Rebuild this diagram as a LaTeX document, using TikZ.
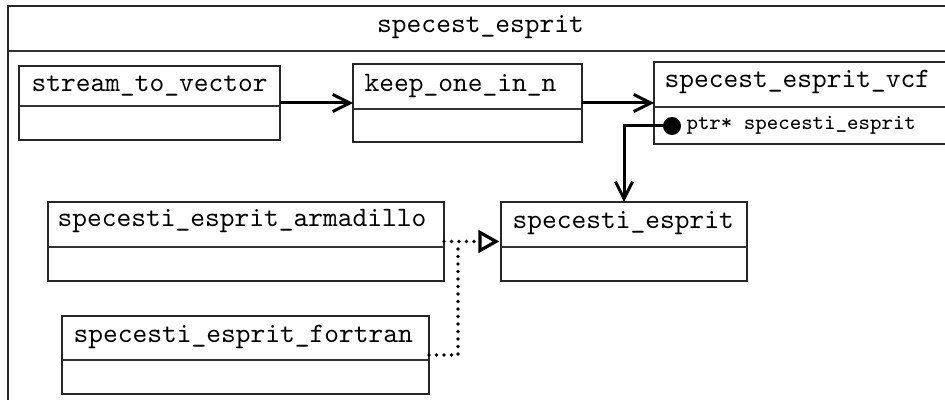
\documentclass[tikz,border=0pt]{standalone}
\usetikzlibrary{arrows.meta,calc}
\newcommand\umlbox[5]{%
  \node[umlframe, minimum width={(#4-#2)*0.5pt}, minimum height={(#5-#3)*0.5pt}] (#1) at (#2,#3) {};}
\begin{document}
\begin{tikzpicture}[x=0.5pt,y=-0.5pt,
  umlframe/.style={draw=black!85, line width=0.65pt, anchor=north west, inner sep=0pt, outer sep=0pt},
  sepline/.style={draw=black!80, line width=0.65pt},
  lbl/.style={anchor=base west, inner sep=0pt, scale=1.405, font=\fontsize{10}{12}\selectfont\ttfamily},
  attr/.style={anchor=base west, inner sep=0pt, scale=1.35, font=\fontsize{8}{10}\selectfont\ttfamily},
  conn/.style={line width=1.5pt, -{Straight Barb[length=8.5pt, width=8.5pt, line width=1.5pt]}},
  realize/.style={line width=1.8pt, line cap=round, dash pattern=on 0pt off 3.75pt},
  hollowtip/.style={draw=black, fill=white, line width=1.6pt, line join=miter, solid},
]
\useasboundingbox (0,0) rectangle (945,400);
% outer package frame
\umlbox{outer}{8}{6}{953}{430}
\draw[sepline] (outer.west |- 0,51) -- (outer.east |- 0,51);
\node[lbl, anchor=base] (outer-t) at (480.5,33) {specest\_esprit};

% classes
\umlbox{stv}{19}{66}{280}{140}
\draw[sepline] (stv.west |- 0,106) -- (stv.east |- 0,106);
\node[lbl] (stv-t) at (31,92) {stream\_to\_vector};

\umlbox{keep}{353}{64}{582}{142}
\draw[sepline] (keep.west |- 0,109) -- (keep.east |- 0,109);
\node[lbl] (keep-t) at (364,92) {keep\_one\_in\_n};

\umlbox{vcf}{654}{62}{955}{144}
\draw[sepline] (vcf.west |- 0,107) -- (vcf.east |- 0,107);
\node[lbl] (vcf-t) at (664,87.5) {specest\_esprit\_vcf};
\node[attr] (vcf-a) at (686,130) {ptr* specesti\_esprit};
\node[circle, fill=black, inner sep=0pt, minimum size=9pt] (dot) at (672,126) {};

\umlbox{spec}{501}{202}{747}{281}
\draw[sepline] (spec.west |- 0,247) -- (spec.east |- 0,247);
\node[lbl] (spec-t) at (512,228) {specesti\_esprit};

\umlbox{arm}{48}{202}{444}{281}
\draw[sepline] (arm.west |- 0,247) -- (arm.east |- 0,247);
\node[lbl] (arm-t) at (57,227) {specesti\_esprit\_armadillo};

\umlbox{fort}{62}{316}{429}{394}
\draw[sepline] (fort.west |- 0,360) -- (fort.east |- 0,360);
\node[lbl] (fort-t) at (73,342) {specesti\_esprit\_fortran};

% connectors
\draw[conn] (stv.east) -- (keep.west);
\draw[conn] (keep.east) -- (vcf.west);
\draw[conn] (dot.center) -| (spec.north);

\coordinate (join) at (458,241.5);
\coordinate (tipbase) at (480,241.5);
\draw[realize] (arm.east) -- (tipbase);
\draw[realize] (fort.east) -| (join);
\draw[hollowtip] (tipbase) -- ++(0,-9) -- ($(spec.west)+(-5,0)$) -- ($(tipbase)+(0,9)$) -- cycle;
\end{tikzpicture}
\end{document}
